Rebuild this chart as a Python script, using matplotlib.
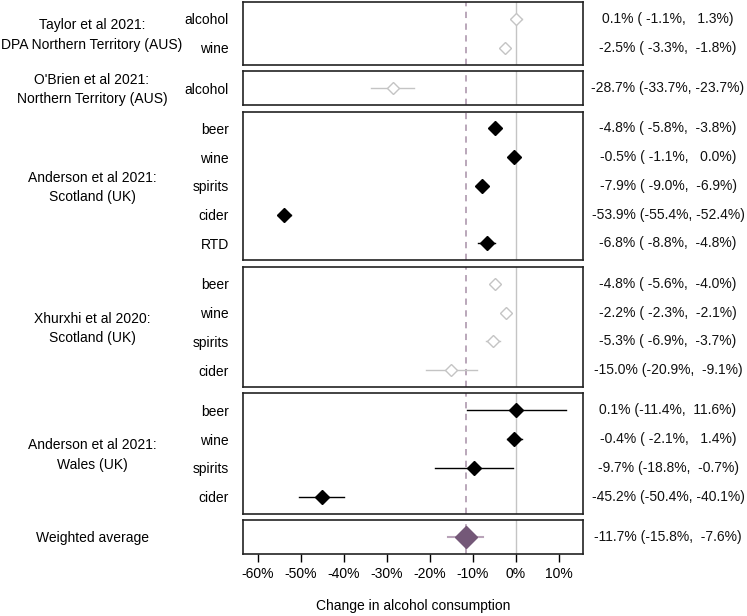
import matplotlib
matplotlib.use("Agg")
import matplotlib.pyplot as plt
from matplotlib.transforms import blended_transform_factory

plt.rcParams['font.family'] = ['Liberation Sans', 'DejaVu Sans']

# study groups: labels, drinks, estimates and 95% intervals
studies = ["Taylor et al 2021:\nDPA Northern Territory (AUS)",
           "O'Brien et al 2021:\nNorthern Territory (AUS)",
           "Anderson et al 2021:\nScotland (UK)",
           "Xhurxhi et al 2020:\nScotland (UK)",
           "Anderson et al 2021:\nWales (UK)",
           "Weighted average"]
drinks = [["alcohol", "wine"],
          ["alcohol"],
          ["beer", "wine", "spirits", "cider", "RTD"],
          ["beer", "wine", "spirits", "cider"],
          ["beer", "wine", "spirits", "cider"],
          [""]]
est = [[0.1, -2.5],
       [-28.7],
       [-4.8, -0.5, -7.9, -53.9, -6.8],
       [-4.8, -2.2, -5.3, -15.0],
       [0.1, -0.4, -9.7, -45.2],
       [-11.7]]
lower = [[-1.1, -3.3],
         [-33.7],
         [-5.8, -1.1, -9.0, -55.4, -8.8],
         [-5.6, -2.3, -6.9, -20.9],
         [-11.4, -2.1, -18.8, -50.4],
         [-15.8]]
upper = [[1.3, -1.8],
         [-23.7],
         [-3.8, 0.0, -6.9, -52.4, -4.8],
         [-4.0, -2.1, -3.7, -9.1],
         [11.6, 1.4, -0.7, -40.1],
         [-7.6]]
kind = ["grey", "grey", "black", "grey", "black", "avg"]
pooled = est[-1][0]

ticks = [-60, -50, -40, -30, -20, -10, 0, 10]
FS = 10

fig = plt.figure(figsize=(7.47, 6.16), dpi=100)
heights = [len(d) + 0.18 for d in drinks]
gs = fig.add_gridspec(len(drinks), 1, height_ratios=heights, hspace=0.075,
                      left=243/747, right=583/747, top=1 - 2/616, bottom=1 - 554/616)

for i in range(len(drinks)):
    ax = fig.add_subplot(gs[i])
    n = len(drinks[i])
    ys = list(range(n))
    ax.set_xlim(-63.5, 15.6)
    ax.set_ylim(n - 0.5 + 0.09, -0.5 - 0.09)
    ax.axvline(0, color='#c4c4c4', lw=1, zorder=1)
    ax.axvline(pooled, color='#b4a0b4', lw=1.3, ls=(0, (3.5, 3)), zorder=1)
    tr = blended_transform_factory(fig.transFigure, ax.transData)

    for y, m, lo, hi in zip(ys, est[i], lower[i], upper[i]):
        if kind[i] == "grey":
            ax.plot([lo, hi], [y, y], color='#c4c4c4', lw=1, zorder=2)
            ax.plot(m, y, marker='D', ms=6, mfc='white', mec='#c4c4c4', mew=1, zorder=3)
        elif kind[i] == "black":
            ax.plot([lo, hi], [y, y], color='black', lw=1, zorder=2)
            ax.plot(m, y, marker='D', ms=7.5, color='black', zorder=3)
        else:
            ax.plot([lo, hi], [y, y], color='#b9a3b9', lw=1.5, zorder=2)
            ax.plot(m, y, marker='D', ms=11, color='#745878', zorder=3)
        txt = f"{m:.1f}% ({lo:5.1f}%, {hi:5.1f}%)"
        ax.text(668/747, y, txt, transform=tr, ha='center', va='center',
                fontsize=FS, color='#111111')

    ax.set_yticks(ys)
    ax.set_yticklabels(drinks[i], fontsize=FS)
    ax.tick_params(axis='y', length=0, pad=10)
    # study label
    ax.text(92/747, (n - 1) / 2 + 0.05, studies[i], transform=tr,
            ha='center', va='center', fontsize=FS, linespacing=1.5)
    for s in ax.spines.values():
        s.set_linewidth(1.2)
        s.set_color('#222222')

    if i == len(drinks) - 1:
        ax.set_xticks(ticks)
        ax.set_xticklabels([f"{t}%" for t in ticks], fontsize=FS)
        ax.tick_params(axis='x', length=6, width=1, pad=3)
        ax.set_xlabel("Change in alcohol consumption", fontsize=FS, labelpad=13)
    else:
        ax.set_xticks([])

fig.savefig("out.png", dpi=100)
